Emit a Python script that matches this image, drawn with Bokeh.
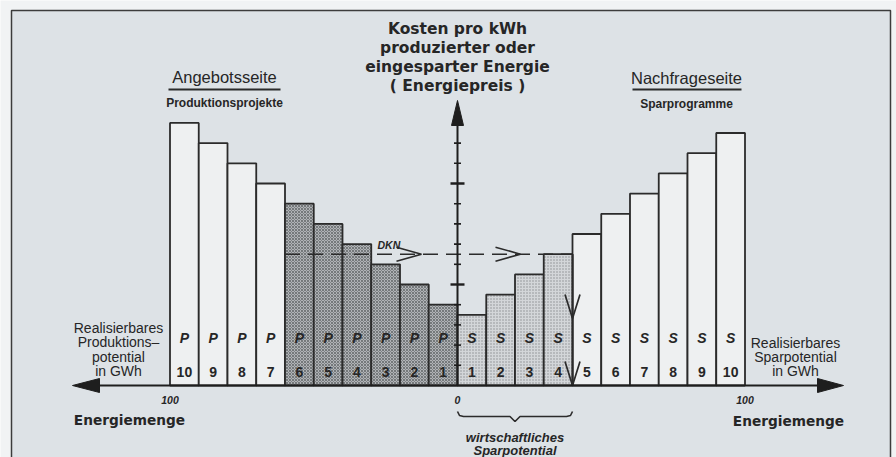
from bokeh.plotting import figure
from bokeh.models import Range1d, ColumnDataSource
from bokeh.core.properties import value
from bokeh.embed import file_html
from bokeh.resources import INLINE

# ---------------- data ----------------
p_numbers = [10, 9, 8, 7, 6, 5, 4, 3, 2, 1]
p_costs = [13, 12, 11, 10, 9, 8, 7, 6, 5, 4]
p_shaded = [0, 0, 0, 0, 1, 1, 1, 1, 1, 1]
s_numbers = [1, 2, 3, 4, 5, 6, 7, 8, 9, 10]
s_costs = [3.5, 4.5, 5.5, 6.5, 7.5, 8.5, 9.5, 10.5, 11.5, 12.5]
s_shaded = [1, 1, 1, 1, 0, 0, 0, 0, 0, 0]
dkn_cost = 6.5
cost_ticks = [1, 2, 3, 4, 5, 6, 7, 8, 9, 10, 11, 12]
major_ticks = [5, 10]
qty_positions = [-10, 0, 10]
qty_labels = ["100", "0", "100"]
title_lines = ["Kosten pro kWh", "produzierter oder", "eingesparter Energie", "( Energiepreis )"]
left_lines = ["Realisierbares", "Produktions\u2013", "potential", "in GWh"]
right_lines = ["Realisierbares", "Sparpotential", "in GWh"]

# ---------------- layout helpers (page pixel -> data) ----------------
OFF = 0
W, H = 896, 457
UX, X0 = 28.75, 457.0
UY, Y0 = 20.2, 385.0
def dx(px): return (px - X0) / UX
def dy(py): return (Y0 - py) / UY
def sx(n): return n / UX
def sy(n): return n / UY

OUT = "#f1f3f4"
BG = "#dde2e6"
INK = "#262626"
FONT = value("Liberation Sans")
BFONT = value("DejaVu Sans")

p = figure(width=W, height=H, x_range=Range1d(dx(OFF), dx(OFF + W)),
           y_range=Range1d(dy(OFF + H), dy(OFF)), output_backend="svg",
           toolbar_location=None, min_border=0,
           x_axis_location=None, y_axis_location=None)
p.grid.visible = False
p.outline_line_color = None
p.background_fill_color = OUT
p.border_fill_color = OUT

# frame
p.quad(left=dx(11), right=dx(890), top=dy(10), bottom=dy(480),
       fill_color=BG, line_color="#3c3c3c", line_width=1.5)

# ---------------- bars ----------------
def bar_source(numbers, costs, shaded, side, want):
    L, R, T = [], [], []
    for n, c, s in zip(numbers, costs, shaded):
        if s != want:
            continue
        if side == "P":
            L.append(-n); R.append(-(n - 1))
        else:
            L.append(n - 1); R.append(n)
        T.append(c)
    return ColumnDataSource(dict(left=L, right=R, top=T, bottom=[0] * len(T)))

bar_line = dict(line_color="#2b2b2b", line_width=1.8)
for side, nums, costs, sh in (("P", p_numbers, p_costs, p_shaded),
                              ("S", s_numbers, s_costs, s_shaded)):
    p.quad(source=bar_source(nums, costs, sh, side, 0), left="left", right="right",
           top="top", bottom="bottom", fill_color="#eef0f1", **bar_line)
p.quad(source=bar_source(p_numbers, p_costs, p_shaded, "P", 1), left="left", right="right",
       top="top", bottom="bottom", fill_color="#b0b3b6",
       hatch_pattern="diagonal_cross", hatch_scale=3, hatch_color="#66696c",
       hatch_weight=0.8, **bar_line)
p.quad(source=bar_source(s_numbers, s_costs, s_shaded, "S", 1), left="left", right="right",
       top="top", bottom="bottom", fill_color="#d3d6d9",
       hatch_pattern="dot", hatch_scale=3, hatch_color="#8a8d90",
       hatch_weight=0.8, **bar_line)

# bar labels
lab_x = [-(n - 0.5) for n in p_numbers] + [n - 0.5 for n in s_numbers]
lab_l = ["P"] * len(p_numbers) + ["S"] * len(s_numbers)
lab_n = [str(n) for n in p_numbers] + [str(n) for n in s_numbers]
p.text(x=lab_x, y=[dy(337)] * len(lab_x), text=lab_l, text_font=FONT,
       text_font_style="bold italic", text_font_size="14px", text_color=INK,
       text_align="center", text_baseline="middle")
p.text(x=lab_x, y=[dy(371)] * len(lab_x), text=lab_n, text_font=FONT,
       text_font_style="bold", text_font_size="14px", text_color=INK,
       text_align="center", text_baseline="middle")

# ---------------- DKN line ----------------
first_p = -max(n for n, s in zip(p_numbers, p_shaded) if s)
last_s = max(n for n, s in zip(s_numbers, s_shaded) if s)
p.line(x=[first_p, last_s], y=[dkn_cost, dkn_cost], line_color="#2b2b2b",
       line_width=1.6, line_dash="15 8")
for tipx in (dx(421), dx(520)):
    p.line(x=[tipx - sx(25), tipx, tipx - sx(25)],
           y=[dkn_cost + sy(7), dkn_cost, dkn_cost - sy(7)],
           line_color="#2b2b2b", line_width=1.6)
p.text(x=[dx(377)], y=[dkn_cost + sy(9)], text=["DKN"], text_font=FONT,
       text_font_style="bold italic", text_font_size="10.5px", text_color=INK,
       text_align="left", text_baseline="middle")
# vertical drop at economic limit
p.line(x=[last_s, last_s], y=[dkn_cost, 0], line_color="#2b2b2b", line_width=1.8)
for tipy in (dy(318), 0):
    p.line(x=[last_s - sx(7.5), last_s, last_s + sx(7.5)],
           y=[tipy + sy(24), tipy, tipy + sy(24)],
           line_color="#2b2b2b", line_width=1.7)

# ---------------- axes ----------------
top_axis = dy(125)
p.line(x=[0, 0], y=[0, top_axis], line_color="#1e1e1e", line_width=2)
p.patch(x=[-sx(6), sx(6), 0], y=[top_axis, top_axis, dy(100)], fill_color="#1e1e1e",
        line_color="#1e1e1e")
half = [sx(7) if t in major_ticks else sx(3.5) for t in cost_ticks]
p.segment(x0=[-h for h in half], x1=half, y0=cost_ticks, y1=cost_ticks,
          line_color="#1e1e1e", line_width=[2.4 if t in major_ticks else 1.6 for t in cost_ticks])

p.line(x=[dx(99), dx(817)], y=[0, 0], line_color="#1e1e1e", line_width=2)
p.patch(x=[dx(99), dx(99), dx(72)], y=[sy(7), -sy(7), 0], fill_color="#1e1e1e",
        line_color="#1e1e1e")
p.patch(x=[dx(817), dx(817), dx(843)], y=[sy(7), -sy(7), 0], fill_color="#1e1e1e",
        line_color="#1e1e1e")
p.text(x=qty_positions, y=[dy(399)] * 3, text=qty_labels, text_font=FONT,
       text_font_style="bold italic", text_font_size="10.5px", text_color=INK,
       text_align="center", text_baseline="middle")

# ---------------- texts ----------------
def txt(x, y, s, size, style="normal", align="center", baseline="middle", font=FONT):
    p.text(x=[x], y=[y], text=[s], text_font=font, text_font_style=style,
           text_font_size=size, text_color=INK, text_align=align, text_baseline=baseline)

for i, s in enumerate(title_lines):
    txt(0, dy(28 + 19.3 * i), s, "15.5px", "bold", font=BFONT)

txt(dx(224), dy(76), "Angebotsseite", "16.5px")
p.line(x=[dx(168), dx(280)], y=[dy(89), dy(89)], line_color="#2b2b2b", line_width=2)
txt(dx(224), dy(102), "Produktionsprojekte", "12px", "bold")
txt(dx(686), dy(77), "Nachfrageseite", "16.5px")
p.line(x=[dx(632), dx(741)], y=[dy(89), dy(89)], line_color="#2b2b2b", line_width=2)
txt(dx(686), dy(103), "Sparprogramme", "12px", "bold")

for i, s in enumerate(left_lines):
    txt(dx(118), dy(327 + 14.5 * i), s, "14px")
for i, s in enumerate(right_lines):
    txt(dx(795), dy(342 + 14.3 * i), s, "14px")

txt(dx(129), dy(419), "Energiemenge", "13.7px", "bold", font=BFONT)
txt(dx(788), dy(420), "Energiemenge", "13.7px", "bold", font=BFONT)

# brace under economic saving potential
bl, br = 0, last_s
mid = (bl + br) / 2
p.line(x=[bl, bl + sx(2), bl + sx(6), mid - sx(5), mid, mid + sx(5), br - sx(6), br - sx(2), br],
       y=[dy(411), dy(415), dy(416), dy(416), dy(421), dy(416), dy(416), dy(415), dy(411)],
       line_color="#2b2b2b", line_width=1.6)
txt(mid, dy(437), "wirtschaftliches", "13px", "bold italic")
txt(mid, dy(450), "Sparpotential", "13px", "bold italic")

open("out.html", "w").write(file_html(p, INLINE))
